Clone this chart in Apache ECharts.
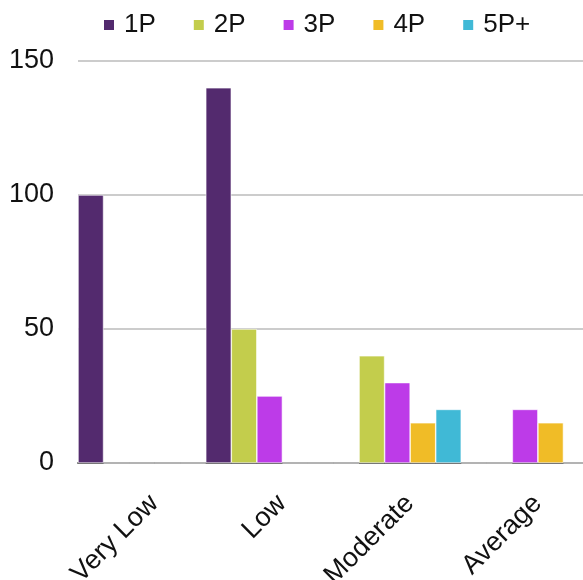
<!DOCTYPE html>
<html><head><meta charset="utf-8">
<script src="https://cdn.jsdelivr.net/npm/echarts@6/dist/echarts.min.js"></script>
<style>html,body{margin:0;padding:0;background:#fff;overflow:hidden}#c{width:589px;height:580px}</style>
</head><body><div id="c"></div>
<script>
const categories = ["Very Low", "Low", "Moderate", "Average"];
const seriesNames = ["1P", "2P", "3P", "4P", "5P+"];
const s1P = [100, 140, 0, 0];
const s2P = [0, 50, 40, 0];
const s3P = [0, 25, 30, 20];
const s4P = [0, 0, 15, 15];
const s5P = [0, 0, 20, 0];
const yTicks = [0, 50, 100, 150];
const colors = ["#532a6e", "#c3cd4c", "#bd3be8", "#f0bc27", "#40b9d6"];

const values = [s1P, s2P, s3P, s4P, s5P];
const font = "Liberation Sans";
const chart = echarts.init(document.getElementById('c'), null, {renderer: 'canvas'});
chart.setOption({
  animation: false,
  color: colors,
  textStyle: {fontFamily: font},
  legend: {
    top: 7, left: 99,
    icon: 'rect', itemWidth: 10, itemHeight: 10, itemGap: 38,
    itemStyle: {borderWidth: 0},
    textStyle: {fontSize: 26, color: '#111', fontFamily: font, padding: [0, 0, 0, 5]},
    data: seriesNames
  },
  grid: {left: 78, top: 61, right: 0, bottom: 117, containLabel: false, outerBoundsMode: 'none'},
  xAxis: {
    type: 'category', data: categories,
    axisLine: {lineStyle: {color: '#666', width: 2}},
    axisTick: {show: false},
    axisLabel: {rotate: 45, fontSize: 27, color: '#111', margin: 24, verticalAlign: 'top', align: 'right', padding: [4, 0, 0, 0], fontFamily: font}
  },
  yAxis: {
    type: 'value', min: yTicks[0], max: yTicks[yTicks.length - 1], interval: 50,
    axisLine: {show: false}, axisTick: {show: false},
    axisLabel: {fontSize: 27, color: '#111', margin: 24, fontFamily: font},
    splitLine: {lineStyle: {color: '#bbb', width: 1.5}}
  },
  series: seriesNames.map((n, i) => ({
    name: n, type: 'bar', data: values[i],
    barGap: '0%', barCategoryGap: '0%',
    itemStyle: {color: colors[i], borderColor: '#fff', borderWidth: 0.6}
  }))
});
</script></body></html>
